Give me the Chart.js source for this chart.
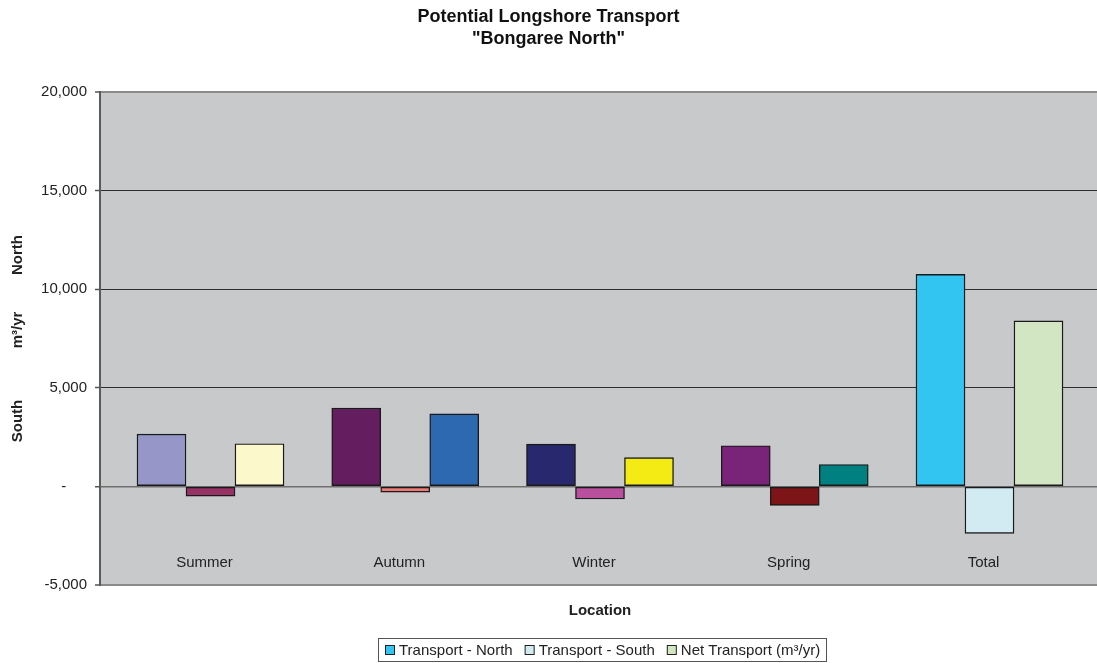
<!DOCTYPE html>
<html>
<head>
<meta charset="utf-8">
<script src="https://cdn.jsdelivr.net/npm/chart.js@4.4.1/dist/chart.umd.min.js"></script>
<style>
  html, body { margin: 0; padding: 0; background: #ffffff; }
  #wrap { width: 1097px; height: 663px; }
  canvas { display: block; }
</style>
</head>
<body>
<div id="wrap"><canvas id="chart" width="1097" height="663"></canvas></div>
<script>
// Seasonal potential longshore transport, m³/yr (north positive, south negative)
const categories = ['Summer', 'Autumn', 'Winter', 'Spring', 'Total'];
const seriesNames = ['Transport - North', 'Transport - South', 'Net Transport (m³/yr)'];
const transportNorth = [2650, 3970, 2140, 2060, 10750];
const transportSouth = [-490, -290, -640, -960, -2380];
const netTransport = [2160, 3680, 1460, 1110, 8390];
const yTickValues = [-5000, 0, 5000, 10000, 15000, 20000];

// Per-point fill colours for each series, and the swatches used in the key
const northColors = ['#9696C8', '#641E5F', '#28286E', '#792478', '#33C5F2'];
const southColors = ['#963264', '#F07A78', '#B9509E', '#7D1418', '#D2EBF2'];
const netColors = ['#FBF9CC', '#2D69B1', '#F5EB14', '#008080', '#D2E6C4'];
const legendColors = ['#33C5F2', '#D2EBF2', '#D2E6C4'];

const FONT = '"Liberation Sans", Arial, Helvetica, sans-serif';
const toPoints = arr => arr.map((v, i) => ({ x: i, y: v }));

const decorPlugin = {
  id: 'decor',
  beforeDraw(chart) {
    const { ctx, chartArea: a } = chart;
    ctx.save();
    ctx.fillStyle = '#C8C9CB';
    ctx.fillRect(a.left, a.top, a.right - a.left, a.bottom - a.top);
    ctx.restore();
  },
  afterDraw(chart) {
    const { ctx, scales: { x, y } } = chart;
    ctx.save();

    // category names sit inside the plot, below the zero line
    ctx.font = '15px ' + FONT;
    ctx.fillStyle = '#222222';
    ctx.textAlign = 'center';
    ctx.textBaseline = 'middle';
    const labelY = y.getPixelForValue(-3900);
    categories.forEach((c, i) => ctx.fillText(c, x.getPixelForValue(i) - 6, labelY));

    // value axis caption: South / m³/yr / North
    ctx.font = 'bold 15px ' + FONT;
    [['South', 421], ['m³/yr', 330], ['North', 255]].forEach(([t, cy]) => {
      ctx.save();
      ctx.translate(18, cy);
      ctx.rotate(-Math.PI / 2);
      ctx.fillText(t, 0, 0);
      ctx.restore();
    });

    // category axis caption
    ctx.fillText('Location', 600, 611);

    // key
    ctx.font = '15px ' + FONT;
    const box = 10, gapBox = 4, gapItem = 12, padX = 7;
    const widths = seriesNames.map(n => ctx.measureText(n).width);
    const total = Math.round(padX * 2 + widths.reduce((s, w) => s + box + gapBox + w, 0) + gapItem * (seriesNames.length - 1));
    const lx = Math.round(602 - total / 2), ly = 638, lh = 24;
    ctx.fillStyle = '#ffffff';
    ctx.fillRect(lx, ly, total, lh);
    ctx.strokeStyle = '#555555';
    ctx.lineWidth = 1;
    ctx.strokeRect(lx + 0.5, ly + 0.5, total - 1, lh - 1);
    let cx = lx + padX;
    ctx.textAlign = 'left';
    seriesNames.forEach((n, i) => {
      ctx.fillStyle = legendColors[i];
      ctx.fillRect(cx, ly + 7, box, box);
      ctx.strokeStyle = '#222222';
      ctx.strokeRect(cx + 0.5, ly + 7.5, box - 1, box - 1);
      ctx.fillStyle = '#222222';
      ctx.fillText(n, cx + box + gapBox, ly + lh / 2 + 0.5);
      cx += box + gapBox + widths[i] + gapItem;
    });
    ctx.restore();
  }
};

const barStyle = { borderColor: '#1a1a1a', borderWidth: 1.4, borderSkipped: false, barThickness: 49 };

new Chart(document.getElementById('chart'), {
  type: 'bar',
  data: {
    datasets: [
      { label: seriesNames[0], data: toPoints(transportNorth), backgroundColor: northColors, ...barStyle },
      { label: seriesNames[1], data: toPoints(transportSouth), backgroundColor: southColors, ...barStyle },
      { label: seriesNames[2], data: toPoints(netTransport), backgroundColor: netColors, ...barStyle }
    ]
  },
  options: {
    responsive: false,
    animation: false,
    devicePixelRatio: 1,
    layout: { padding: { top: 0, right: 0, bottom: 78, left: 0 } },
    plugins: {
      legend: { display: false },
      tooltip: { enabled: false },
      title: {
        display: true,
        text: ['Potential Longshore Transport', '"Bongaree North"'],
        color: '#111111',
        font: { family: FONT, size: 18, weight: 'bold', lineHeight: 1.2222 },
        padding: { top: 6, bottom: 42 }
      }
    },
    scales: {
      x: {
        type: 'linear',
        display: false,
        offset: false,
        grid: { offset: false },
        min: -0.5674,
        max: 4.552,
        ticks: { stepSize: 1, includeBounds: false }
      },
      y: {
        position: 'left',
        min: yTickValues[0],
        max: yTickValues[yTickValues.length - 1],
        afterBuildTicks(scale) { scale.ticks = yTickValues.map(v => ({ value: v })); },
        afterFit(scale) { scale.width = 100; },
        ticks: {
          color: '#222222',
          font: { family: FONT, size: 15 },
          padding: 8,
          callback: v => (v === 0 ? '-     ' : v.toLocaleString('en-US'))
        },
        grid: {
          color: c => {
            const v = c.tick && c.tick.value;
            if (v === 20000 || v === -5000) return '#8a8a8a';
            if (v === 0) return '#6e6e6e';
            return '#2e2e2e';
          },
          lineWidth: c => {
            const v = c.tick && c.tick.value;
            if (v === 20000 || v === -5000) return 2;
            if (v === 0) return 1.5;
            return 1;
          },
          tickColor: '#555555',
          tickLength: 5,
          tickWidth: 1.5
        },
        border: { color: '#5a5a5a', width: 2 }
      }
    }
  },
  plugins: [decorPlugin]
});
</script>
</body>
</html>
